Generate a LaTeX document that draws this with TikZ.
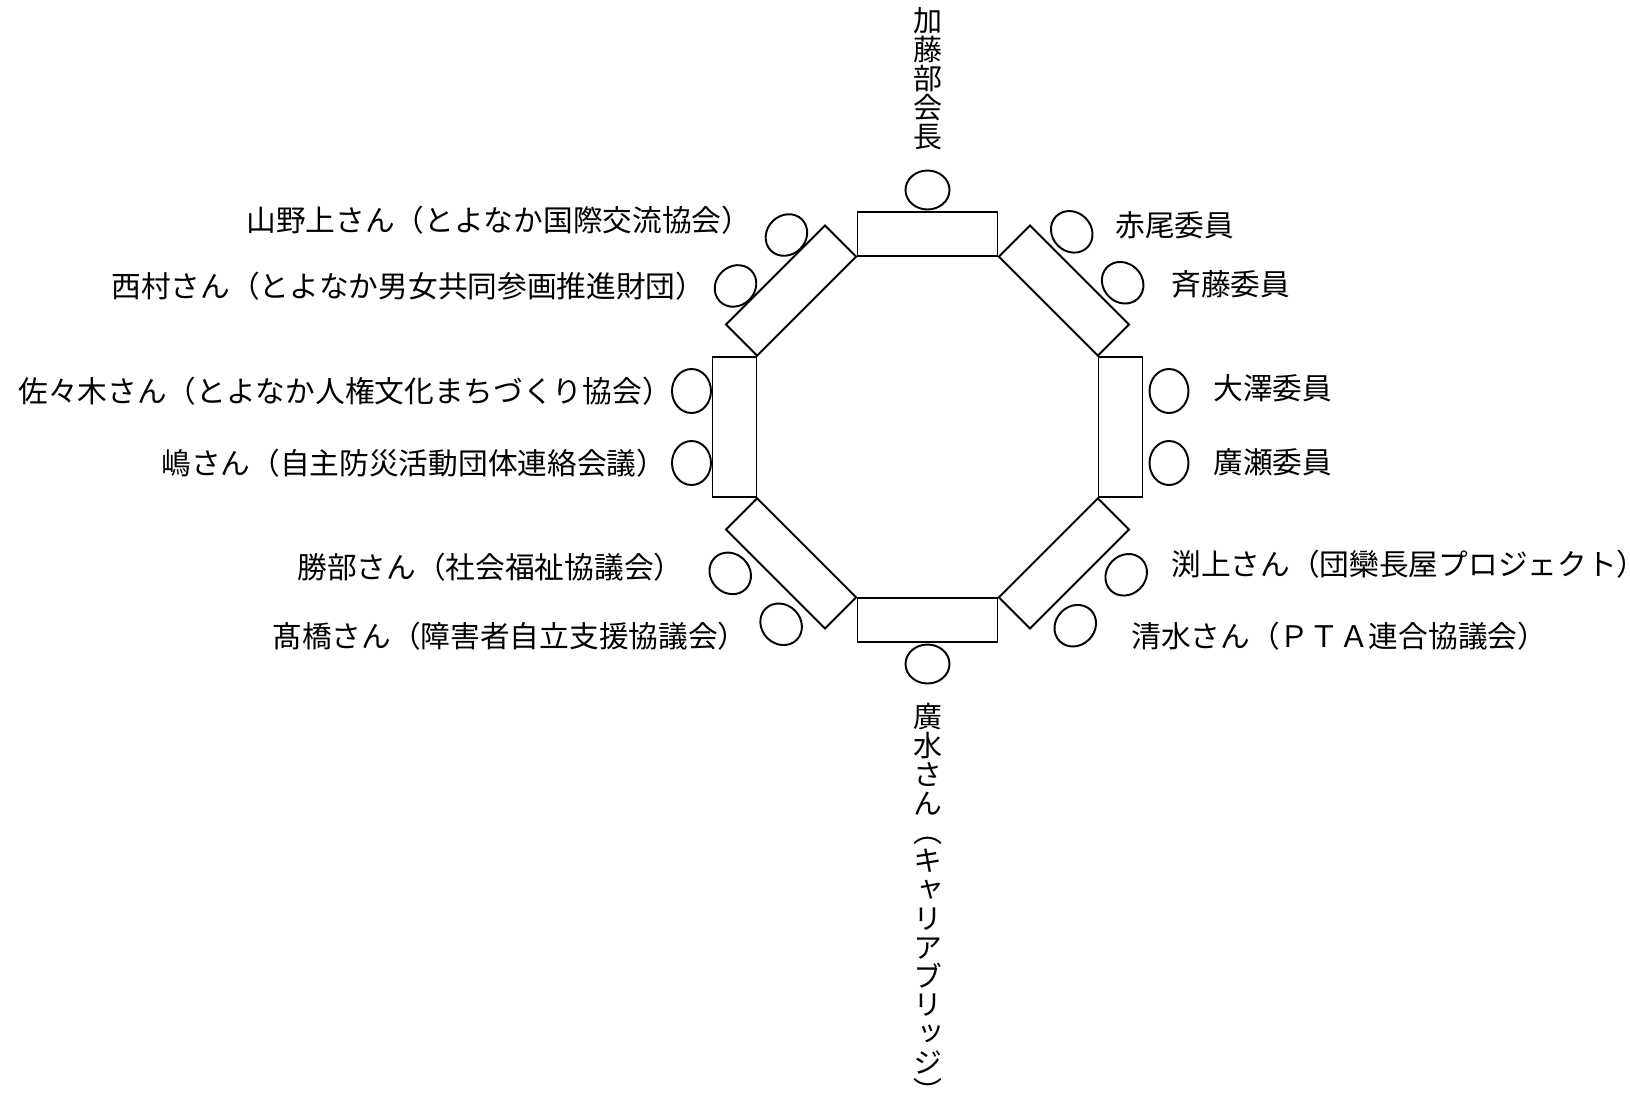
\documentclass[tikz,border=0pt]{standalone}
\usepackage{fontspec}
\usetikzlibrary{shapes.geometric}

\newfontfamily\jpfont{Noto Sans CJK JP}
\newfontfamily\jpvertfont[RawFeature=+vert]{Noto Sans CJK JP}
\newcommand{\jpsize}{\fontsize{16.9pt}{16.9pt}\selectfont}
\newcommand{\jpvsize}{\fontsize{16.5pt}{16.4pt}\selectfont\lineskiplimit=-5pt}
\newcommand{\cellstrut}{\rule[-0.12em]{0pt}{1em}}

\begin{document}
\begin{tikzpicture}[
                    table/.style={
                        rectangle,
                        draw,
                        line width=1.1pt,
                        minimum width=2.8cm,
                        minimum height=0.88cm,
                        inner sep=0pt
                    },
                    seat/.style={
                        ellipse,
                        draw,
                        line width=1.1pt,
                        minimum width=0.88cm,
                        minimum height=0.78cm,
                        inner sep=0pt
                    },
                    guest/.style={
                        anchor=west,
                        inner sep=0pt,
                        text height=0.88em,
                        text depth=0.12em,
                        font=\jpfont\jpsize
                    },
                    tategaki/.style={
                        align=center,
                        inner sep=0pt,
                        font=\jpvertfont\jpvsize
                    }
                ]
                    \useasboundingbox (-18.55,-13.36) rectangle (14.05,8.54);

                    % Tables
                    \foreach \a/\t in {90/tN,45/tNE,0/tE,-45/tSE,-90/tS,-135/tSW,180/tW,135/tNW}
                        \node[table, rotate=\a-90] (\t) at (\a:3.86) {};

                    % Seats
                    \node[seat] (sN) at (90:4.74) {};
                    \node[seat] (sS) at (-90:4.74) {};
                    \foreach \a/\s/\r in {45/sNE/4.8,0/sE/4.83,-45/sSE/4.9,-135/sSW/4.86,180/sW/4.72,135/sNW/4.71} {
                        \path (\a:\r) ++(\a+90:0.72) node[seat, rotate=\a-90] (\s1) {};
                        \path (\a:\r) ++(\a-90:0.72) node[seat, rotate=\a-90] (\s2) {};
                    }

                    % Names
                    \node[tategaki] (kato) at (0,6.97) {\cellstrut 加\\藤\\部\\会\\長\cellstrut};
                    \node[tategaki] (hirosui) at (0,-9.54) {\cellstrut 廣\\水\\さ\\ん\\（\\キ\\ャ\\リ\\ア\\ブ\\リ\\ッ\\ジ\\）\cellstrut};

                    \node[guest] (yamanoue) at (-13.63,4.04) {山野上さん（とよなか国際交流協会）};
                    \node[guest] (nishimura) at (-16.33,2.72) {西村さん（とよなか男女共同参画推進財団）};
                    \node[guest] (sasaki) at (-18.19,0.62) {佐々木さん（とよなか人権文化まちづくり協会）};
                    \node[guest] (shima) at (-15.33,-0.82) {嶋さん（自主防災活動団体連絡会議）};
                    \node[guest] (katsube) at (-12.61,-2.90) {勝部さん（社会福祉協議会）};
                    \node[guest] (takahashi) at (-13.11,-4.28) {髙橋さん（障害者自立支援協議会）};

                    \node[guest] (akao) at (3.75,3.94) {赤尾委員};
                    \node[guest] (saito) at (4.87,2.76) {斉藤委員};
                    \node[guest] (osawa) at (5.71,0.68) {大澤委員};
                    \node[guest] (hirose) at (5.71,-0.80) {廣瀬委員};
                    \node[guest] (fuchigami) at (4.87,-2.84) {渕上さん（団欒長屋プロジェクト）};
                    \node[guest] (shimizu) at (4.07,-4.28) {清水さん（ＰＴＡ連合協議会）};
                \end{tikzpicture}
\end{document}
